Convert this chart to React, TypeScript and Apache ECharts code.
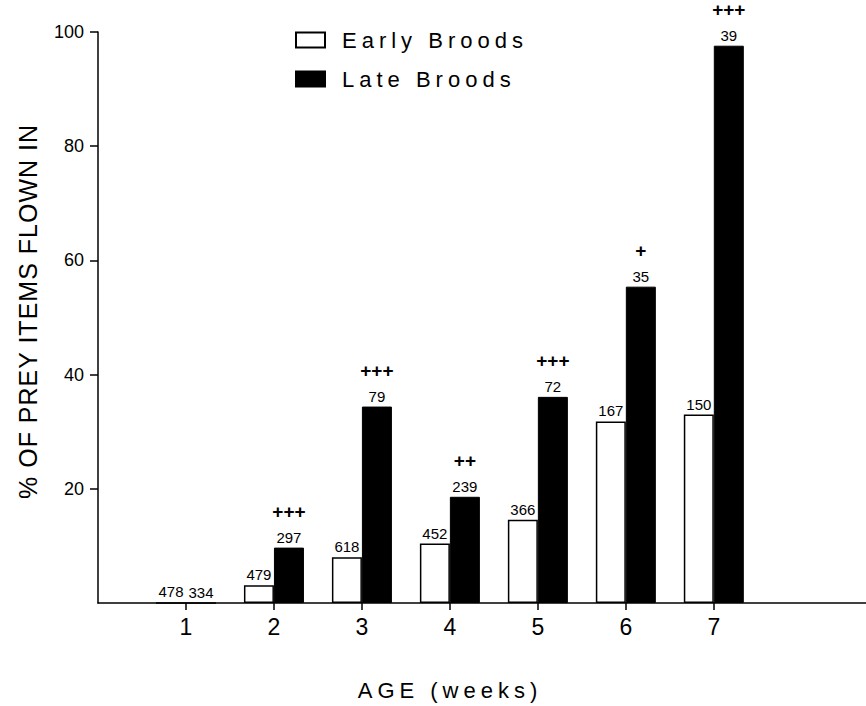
import React, { useEffect, useRef } from "react";
import * as echarts from "echarts";

const weeks = [1, 2, 3, 4, 5, 6, 7];
const earlyPct = [0, 3.1, 8.0, 10.4, 14.6, 31.8, 33.0];
const latePct = [0, 9.7, 34.4, 18.6, 36.1, 55.4, 97.6];
const earlyN = [478, 479, 618, 452, 366, 167, 150];
const lateN = [334, 297, 79, 239, 72, 35, 39];
const lateSig = ["", "+++", "+++", "++", "+++", "+", "+++"];
const yTicks = [20, 40, 60, 80, 100];
const seriesNames = ["Early Broods", "Late Broods"];
const xTitle = "AGE (weeks)";
const yTitle = "% OF PREY ITEMS FLOWN IN";

const FONT = "'Liberation Sans', Arial, sans-serif";
const SPACED_A = "'Liberation Sans', LSpacedA, sans-serif";
const SPACED_B = "'Liberation Sans', LSpacedB, sans-serif";

export default function App() {
  const ref = useRef<HTMLDivElement>(null);

  useEffect(() => {
    if (!ref.current) return;
    const chart = echarts.init(ref.current, undefined, { renderer: "svg" });
    const option: any = {
      animation: false,
      backgroundColor: "#fff",
      textStyle: { fontFamily: FONT, color: "#000" },
      grid: { left: 98, right: 0, top: 32, bottom: 96, containLabel: false },
      legend: {
        orient: "vertical",
        left: 290,
        top: 24,
        itemWidth: 29,
        itemHeight: 15,
        itemGap: 17,
        icon: "rect",
        data: seriesNames,
        textStyle: { fontSize: 22, fontFamily: SPACED_A, color: "#000", padding: [0, 0, 0, 12] },
      },
      xAxis: {
        type: "value",
        min: 0,
        max: 8.73,
        interval: 1,
        name: xTitle,
        nameLocation: "middle",
        nameGap: 76,
        nameTextStyle: { fontSize: 22, fontFamily: SPACED_A, color: "#000", padding: [0, 64, 0, 0] },
        axisLine: { show: true, lineStyle: { color: "#000", width: 1.5 } },
        axisTick: { show: true, length: 7, customValues: weeks, lineStyle: { color: "#000", width: 1.5 } },
        axisLabel: { customValues: weeks, fontSize: 23, color: "#000", margin: 12, fontFamily: FONT },
        splitLine: { show: false },
      },
      yAxis: {
        type: "value",
        min: 0,
        max: 100,
        interval: 20,
        name: yTitle,
        nameLocation: "middle",
        nameRotate: 90,
        nameGap: 58,
        nameTextStyle: { fontSize: 25, fontFamily: SPACED_B, color: "#000", padding: [0, 0, 0, 12] },
        axisLine: { show: true, lineStyle: { color: "#000", width: 1.5 } },
        axisTick: { show: true, length: 8, customValues: yTicks, lineStyle: { color: "#000", width: 1.5 } },
        axisLabel: { customValues: yTicks, fontSize: 18, color: "#000", margin: 14, fontFamily: FONT },
        splitLine: { show: false },
      },
      series: [
        {
          name: seriesNames[0],
          type: "bar",
          barWidth: 30,
          barGap: "0%",
          data: weeks.map((w, i) => [w, earlyPct[i]]),
          itemStyle: { color: "#fff", borderColor: "#000", borderWidth: 1.5 },
          label: {
            show: true,
            position: "top",
            distance: 3,
            fontSize: 15,
            color: "#000",
            fontFamily: FONT,
            formatter: (p: any) => String(earlyN[p.dataIndex]),
          },
        },
        {
          name: seriesNames[1],
          type: "bar",
          barWidth: 30,
          barGap: "0%",
          data: weeks.map((w, i) => [w, latePct[i]]),
          itemStyle: { color: "#000", borderColor: "#000", borderWidth: 1 },
          label: {
            show: true,
            position: "top",
            distance: 1,
            color: "#000",
            fontFamily: FONT,
            formatter: (p: any) => {
              const i = p.dataIndex;
              return lateSig[i]
                ? `{s|${lateSig[i]}}\n{g| }\n{c|${lateN[i]}}`
                : `{c|${lateN[i]}}`;
            },
            rich: {
              s: { fontSize: 19, lineHeight: 16, fontWeight: "bold", color: "#000", fontFamily: FONT },
              g: { fontSize: 8, lineHeight: 9 },
              c: { fontSize: 15, lineHeight: 18, color: "#000", fontFamily: FONT },
            },
          },
        },
      ],
    };
    chart.setOption(option);
    return () => chart.dispose();
  }, []);

  return (
    <>
      <style>{`
        text[style*="LSpacedA"] { letter-spacing: 5px; }
        text[style*="LSpacedB"] { letter-spacing: 1px; }
      `}</style>
      <div
        ref={ref}
        style={{ position: "fixed", left: 0, top: 0, width: 866, height: 706, background: "#fff" }}
      />
    </>
  );
}
